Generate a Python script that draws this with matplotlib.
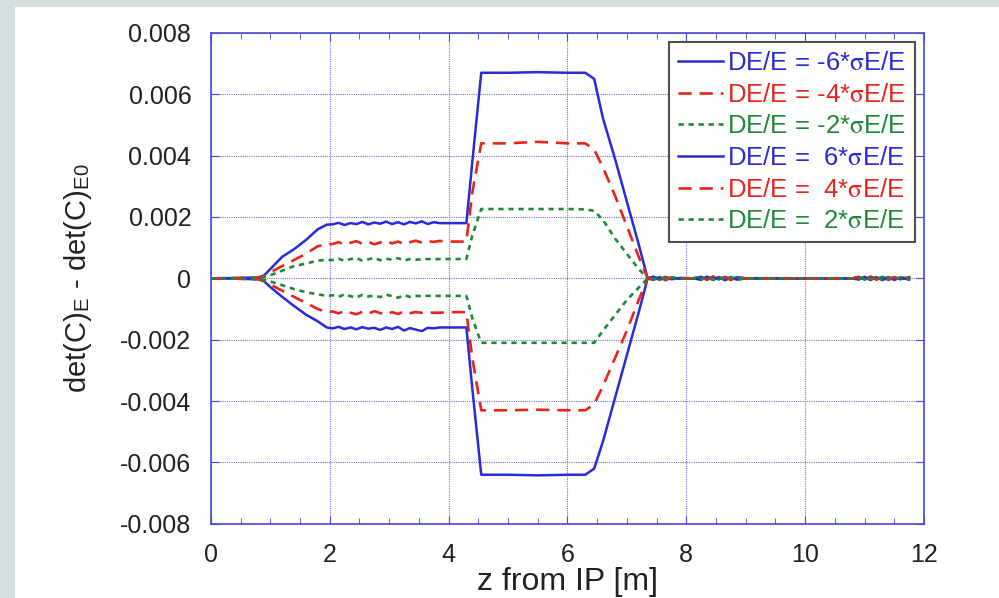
import matplotlib
matplotlib.use("Agg")
import matplotlib.pyplot as plt
from matplotlib.patches import Rectangle
from matplotlib.ticker import MultipleLocator

plt.rcParams["font.family"] = ["Liberation Sans", "DejaVu Sans"]
plt.rcParams["mathtext.fontset"] = "stix"

# positions along the beam line (m)
z = [0.0, 0.4, 0.8, 0.9, 1.0, 1.2, 1.4, 1.6, 1.8, 1.95,
     2.05, 2.15, 2.25, 2.35, 2.45, 2.55, 2.65, 2.75, 2.85, 2.95,
     3.05, 3.15, 3.25, 3.35, 3.45, 3.55, 3.65, 3.75, 3.85,
     4.0, 4.3, 4.4, 4.55, 5.0, 5.5, 6.0, 6.3, 6.45, 6.6, 6.8, 7.0, 7.2, 7.35,
     7.45, 7.55, 7.65, 7.75, 7.9, 8.1, 8.25, 8.35, 8.45, 8.55, 8.65, 8.75, 8.85,
     9.0, 10.0, 10.8, 10.9, 11.0, 11.1, 11.2, 11.3, 11.4, 11.5, 11.6, 11.75]

# det(C)_E - det(C)_E0 for each energy offset
blue_up = [0.0, 0.00001, 0.00003, 0.0001, 0.0003, 0.0007, 0.00095, 0.00125, 0.0016, 0.00175,
           0.00176, 0.00181, 0.00174, 0.00180, 0.00177, 0.00184, 0.00176, 0.00182, 0.00178, 0.00185,
           0.00177, 0.00183, 0.00176, 0.00184, 0.00179, 0.00186, 0.00177, 0.00183, 0.00180,
           0.0018, 0.0018, 0.0038, 0.0067, 0.0067, 0.00672, 0.0067, 0.0067, 0.0065, 0.0052, 0.0039, 0.0025, 0.0011, 0.0,
           0.00006, -0.00004, 0.00005, -0.00003, 0.00001, 0.0, 0.00005, -0.00004, 0.00006, -0.00003, 0.00005, -0.00004, 0.00004,
           0.0, 0.0, 0.0, 0.00005, -0.00004, 0.00006, -0.00003, 0.00005, -0.00005, 0.00004, -0.00003, 0.00004]
blue_lo = [0.0, -0.00001, -0.00003, -0.0001, -0.00028, -0.0006, -0.0009, -0.00118, -0.0014, -0.0016,
           -0.00163, -0.00158, -0.00165, -0.00160, -0.00166, -0.00159, -0.00164, -0.00161, -0.00168, -0.00160,
           -0.00165, -0.00158, -0.00170, -0.00162, -0.00167, -0.00172, -0.00161, -0.00163, -0.00160,
           -0.0016, -0.0016, -0.0036, -0.0064, -0.0064, -0.00642, -0.0064, -0.0064, -0.0062, -0.0053, -0.0039, -0.0025, -0.0011, 0.0,
           -0.00005, 0.00004, -0.00006, 0.00003, -0.00001, 0.0, -0.00004, 0.00005, -0.00005, 0.00004, -0.00006, 0.00003, -0.00004,
           0.0, 0.0, 0.0, -0.00004, 0.00005, -0.00005, 0.00004, -0.00006, 0.00004, -0.00005, 0.00003, -0.00004]
red_up = [0.0, 0.00001, 0.00002, 0.00008, 0.0002, 0.0004, 0.0006, 0.0008, 0.00105, 0.0011,
          0.00112, 0.00118, 0.00110, 0.00116, 0.00121, 0.00113, 0.00119, 0.00111, 0.00117, 0.00122,
          0.00114, 0.00120, 0.00112, 0.00118, 0.00123, 0.00116, 0.00121, 0.00119, 0.00122,
          0.0012, 0.0012, 0.0028, 0.0044, 0.0044, 0.00445, 0.0044, 0.0044, 0.0042, 0.0036, 0.0027, 0.0017, 0.0007, 0.0,
          0.00004, -0.00005, 0.00003, -0.00004, 0.00001, 0.0, -0.00004, 0.00005, -0.00003, 0.00004, -0.00005, 0.00004, -0.00003,
          0.0, 0.0, 0.0, -0.00004, 0.00004, -0.00005, 0.00005, -0.00003, 0.00004, -0.00004, 0.00005, -0.00003]
red_lo = [0.0, -0.00001, -0.00002, -0.00008, -0.0002, -0.0004, -0.0006, -0.0008, -0.001, -0.0011,
          -0.00108, -0.00114, -0.00106, -0.00112, -0.00117, -0.00109, -0.00115, -0.00107, -0.00113, -0.00118,
          -0.00110, -0.00116, -0.00108, -0.00113, -0.00110, -0.00112, -0.00111, -0.00112, -0.00112,
          -0.0011, -0.0011, -0.0026, -0.0043, -0.0043, -0.00428, -0.0043, -0.0043, -0.0041, -0.0035, -0.0026, -0.0017, -0.0007, 0.0,
          -0.00004, 0.00005, -0.00004, 0.00003, -0.00001, 0.0, 0.00004, -0.00004, 0.00005, -0.00004, 0.00003, -0.00005, 0.00004,
          0.0, 0.0, 0.0, 0.00004, -0.00005, 0.00004, -0.00004, 0.00005, -0.00003, 0.00004, -0.00004, 0.00003]
green_up = [0.0, 0.00001, 0.00002, 0.00005, 0.0001, 0.00025, 0.0004, 0.00048, 0.00058, 0.0006,
            0.00060, 0.00064, 0.00057, 0.00063, 0.00066, 0.00058, 0.00062, 0.00067, 0.00059, 0.00064,
            0.00061, 0.00066, 0.00058, 0.00063, 0.00061, 0.00062, 0.00063, 0.00062, 0.00063,
            0.00063, 0.00063, 0.0014, 0.00226, 0.00226, 0.00226, 0.00226, 0.00225, 0.0022, 0.0019, 0.0013, 0.0008, 0.0003, 0.0,
            0.00003, -0.00003, 0.00004, -0.00002, 0.00001, 0.0, 0.00003, -0.00004, 0.00003, -0.00003, 0.00004, -0.00003, 0.00002,
            0.0, 0.0, 0.0, 0.00003, -0.00003, 0.00004, -0.00003, 0.00003, -0.00004, 0.00003, -0.00002, 0.00003]
green_lo = [0.0, -0.00001, -0.00002, -0.00005, -0.0001, -0.00022, -0.00035, -0.00045, -0.00052, -0.00057,
            -0.00055, -0.00060, -0.00052, -0.00058, -0.00062, -0.00054, -0.00059, -0.00056, -0.00061, -0.00053,
            -0.00058, -0.00063, -0.00055, -0.00060, -0.00057, -0.00058, -0.00057, -0.00057, -0.00057,
            -0.00057, -0.00057, -0.0013, -0.0021, -0.0021, -0.0021, -0.0021, -0.0021, -0.0021, -0.0017, -0.0012, -0.0007, -0.0003, 0.0,
            -0.00003, 0.00004, -0.00003, 0.00003, -0.00001, 0.0, -0.00003, 0.00003, -0.00004, 0.00003, -0.00003, 0.00004, -0.00003,
            0.0, 0.0, 0.0, -0.00003, 0.00004, -0.00003, 0.00003, -0.00004, 0.00003, -0.00003, 0.00003, -0.00003]

labels = ["DE/E = -6*$\\mathrm{\\sigma}$E/E", "DE/E = -4*$\\mathrm{\\sigma}$E/E",
          "DE/E = -2*$\\mathrm{\\sigma}$E/E", "DE/E =  6*$\\mathrm{\\sigma}$E/E",
          "DE/E =  4*$\\mathrm{\\sigma}$E/E", "DE/E =  2*$\\mathrm{\\sigma}$E/E"]

yticks = [-0.008, -0.006, -0.004, -0.002, 0, 0.002, 0.004, 0.006, 0.008]
ytick_labels = ["-0.008", "-0.006", "-0.004", "-0.002", "0", "0.002", "0.004", "0.006", "0.008"]

blue = "#2a2ad8"
red = "#e8241c"
green = "#1f8a36"
axis_blue = "#4848d8"

fig = plt.figure(figsize=(9.99, 5.98), dpi=100, facecolor="#d4dfdf")
# white page on the grey surround
fig.add_artist(Rectangle((15 / 999, 0), 1, 1 - 7 / 598, transform=fig.transFigure,
                         facecolor="white", edgecolor="none", zorder=-10))
ax = fig.add_axes([0.211, 0.124, 0.714, 0.821])
ax.set_zorder(1)

ax.plot(z, blue_up, color=blue, lw=1.8, label=labels[0])
ax.plot(z, red_up, color=red, lw=1.9, dashes=(5, 3), label=labels[1])
ax.plot(z, green_up, color=green, lw=1.9, dashes=(2, 1.8), label=labels[2])
ax.plot(z, blue_lo, color=blue, lw=1.8, label=labels[3])
ax.plot(z, red_lo, color=red, lw=1.9, dashes=(5, 3), label=labels[4])
ax.plot(z, green_lo, color=green, lw=1.9, dashes=(2, 1.8), label=labels[5])

ax.set_xlim(0, 12)
ax.set_ylim(-0.008, 0.008)
ax.xaxis.set_major_locator(MultipleLocator(2))
ax.xaxis.set_minor_locator(MultipleLocator(0.5))
ax.set_yticks(yticks)
ax.set_yticklabels(ytick_labels)

for s in ax.spines.values():
    s.set_color(axis_blue)
    s.set_linewidth(1.2)
ax.tick_params(which="both", direction="in", top=True, right=True, color=axis_blue,
               labelsize=18, labelcolor="#222222")
ax.tick_params(which="major", length=6, pad=14)
ax.tick_params(which="minor", length=4)
ax.grid(True, which="major", color="#7070e0", linestyle=(0, (1, 1)), linewidth=0.8)

ax.set_xlabel("z from IP [m]", fontsize=23, labelpad=0, color="#222222")
ax.set_ylabel("det(C)$_\\mathregular{E}$ - det(C)$_\\mathregular{E0}$", fontsize=21,
              labelpad=19, color="#222222")

leg = ax.legend(loc="upper right", fontsize=18.5, handlelength=1.75, handletextpad=0.16,
                labelspacing=0.3, borderaxespad=0.35, borderpad=0.35, fancybox=False,
                framealpha=1, edgecolor="#505050")
leg.get_frame().set_linewidth(1.5)
for txt, ln in zip(leg.get_texts(), leg.get_lines()):
    txt.set_color(ln.get_color())

fig.savefig("out.png", dpi=100, facecolor=fig.get_facecolor())
